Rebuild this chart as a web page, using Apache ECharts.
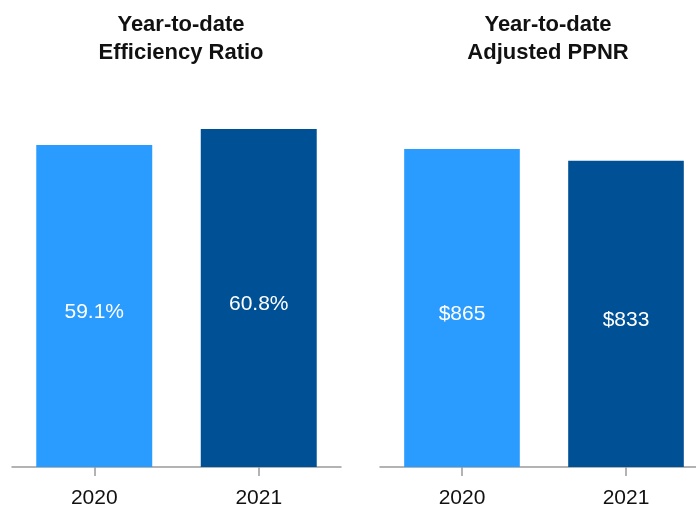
<!DOCTYPE html>
<html><head><meta charset="utf-8">
<script src="https://cdn.jsdelivr.net/npm/echarts@6/dist/echarts.min.js"></script>
<style>html,body{margin:0;padding:0;background:#fff}#c{width:696px;height:505px}</style>
</head><body><div id="c"></div>
<script>
var categories = ['2020', '2021'];
var efficiencyValues = [59.1, 60.8];
var ppnrValues = [865, 833];
var titles = ['Year-to-date\nEfficiency Ratio', 'Year-to-date\nAdjusted PPNR'];
var colors = ['#2A9BFF', '#005096'];
var font = 'Liberation Sans, Arial, sans-serif';

var chart = echarts.init(document.getElementById('c'), null, {renderer: 'canvas'});
function xAx(i) {
  return {
    type: 'category', gridIndex: i, data: categories,
    axisLine: {show: true, lineStyle: {color: '#9a9a9a', width: 1.5}},
    axisTick: {show: true, alignWithLabel: true, length: 9, lineStyle: {color: '#9a9a9a', width: 1.5}},
    axisLabel: {color: '#111', fontSize: 21, fontFamily: font, margin: 21}
  };
}
function yAx(i, min, max) {
  return {type: 'value', gridIndex: i, min: min, max: max, show: false, splitLine: {show: false}};
}
function ser(i, vals, fmt) {
  return {
    type: 'bar', xAxisIndex: i, yAxisIndex: i, barCategoryGap: '29.5%',
    data: vals.map(function (v, k) { return {value: v, itemStyle: {color: colors[k]}}; }),
    label: {show: true, position: 'inside', offset: [0, 6], color: '#fff', fontSize: 21, fontFamily: font, formatter: fmt}
  };
}
var tStyle = {fontSize: 22, fontWeight: 'bold', fontFamily: font, color: '#111', lineHeight: 28};
chart.setOption({
  animation: false,
  title: [
    {text: titles[0], left: 176, top: 6, textAlign: 'center', textStyle: tStyle},
    {text: titles[1], left: 543, top: 6, textAlign: 'center', textStyle: tStyle}
  ],
  grid: [
    {left: 12, width: 329, top: 129, height: 338, outerBoundsMode: 'none', containLabel: false},
    {left: 380, width: 328, top: 149, height: 318, outerBoundsMode: 'none', containLabel: false}
  ],
  xAxis: [xAx(0), xAx(1)],
  yAxis: [yAx(0, 25, 60.8), yAx(1, 0, 865)],
  series: [
    ser(0, efficiencyValues, function (p) { return p.value.toFixed(1) + '%'; }),
    ser(1, ppnrValues, function (p) { return '$' + p.value; })
  ]
});
</script></body></html>
